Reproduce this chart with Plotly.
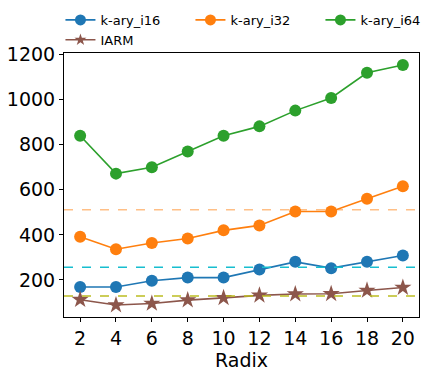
import plotly.graph_objects as go

radix = [2, 4, 6, 8, 10, 12, 14, 16, 18, 20]
kary_i16 = [168, 168, 196, 210, 210, 246, 280, 252, 280, 308]
kary_i32 = [392, 336, 364, 384, 420, 442, 504, 504, 560, 616]
kary_i64 = [840, 672, 700, 770, 840, 882, 952, 1008, 1120, 1155]
iarm = [112, 88, 95, 110, 120, 131, 137, 138, 153, 166]
ref_levels = [512, 256, 128]
ref_colors = ["rgba(255,127,14,0.5)", "#17becf", "#bcbd22"]

# the page body adds an 8px margin, so the figure is drawn 8px smaller
W, H = 437 - 8, 374 - 8

fig = go.Figure()

series = [
    ("k-ary_i16", kary_i16, "#1f77b4", "circle", 12, 11),
    ("k-ary_i32", kary_i32, "#ff7f0e", "circle", 12, 11),
    ("k-ary_i64", kary_i64, "#2ca02c", "circle", 12, 11),
    ("IARM", iarm, "#8c564b", "star", 13, 9),
]
for name, vals, color, symbol, size, leg_size in series:
    fig.add_trace(go.Scatter(
        x=radix, y=vals, name=name, mode="lines+markers", showlegend=False,
        line=dict(color=color, width=1.6),
        marker=dict(symbol=symbol, size=size, color=color),
    ))
    # legend entry with the smaller legend marker
    fig.add_trace(go.Scatter(
        x=[None], y=[None], name=name, mode="lines+markers",
        line=dict(color=color, width=1.6),
        marker=dict(symbol=symbol, size=leg_size, color=color),
    ))

for level, color in zip(ref_levels, ref_colors):
    fig.add_hline(y=level, line=dict(color=color, width=1.5, dash="dash"))

fig.update_layout(
    width=W, height=H,
    margin=dict(l=56, r=18, t=45, b=57, autoexpand=False),
    plot_bgcolor="white", paper_bgcolor="white",
    font=dict(family="DejaVu Sans", color="black"),
    showlegend=True,
    legend=dict(
        orientation="h", x=-0.01, y=1.182, xanchor="left", yanchor="top",
        entrywidth=85, entrywidthmode="pixels",
        font=dict(size=13), bgcolor="rgba(0,0,0,0)",
        tracegroupgap=0, itemwidth=30,
    ),
)
fig.update_xaxes(
    range=[1.1, 20.9], tickvals=radix, showgrid=False, zeroline=False,
    showline=True, linecolor="black", linewidth=1, mirror=True,
    ticks="outside", ticklen=4, tickcolor="black", tickfont=dict(size=19),
    title=dict(text="Radix", font=dict(size=19), standoff=0),
    automargin=False,
)
fig.update_yaxes(
    range=[35, 1208], tickvals=[200, 400, 600, 800, 1000, 1200],
    showgrid=False, zeroline=False,
    showline=True, linecolor="black", linewidth=1, mirror=True,
    ticks="outside", ticklen=4, tickcolor="black", tickfont=dict(size=19),
    automargin=False,
)

fig.write_html("out.html")
